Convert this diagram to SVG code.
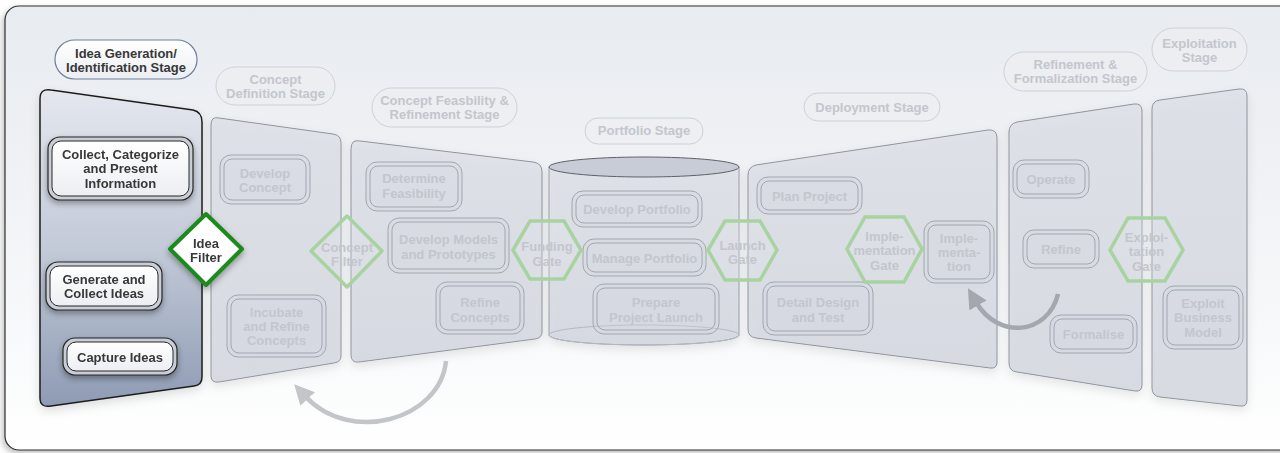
<svg xmlns="http://www.w3.org/2000/svg" width="1280" height="453" viewBox="0 0 1280 453">
<defs>
  <linearGradient id="bg" x1="0" y1="0" x2="0" y2="1">
    <stop offset="0" stop-color="#e8ebf0"/>
    <stop offset="0.6" stop-color="#f4f6f8"/>
    <stop offset="1" stop-color="#ffffff"/>
  </linearGradient>
  <linearGradient id="leftPanel" x1="0" y1="0" x2="0" y2="1">
    <stop offset="0" stop-color="#e4e7ee"/>
    <stop offset="0.5" stop-color="#c3cad8"/>
    <stop offset="1" stop-color="#8e9bb4"/>
  </linearGradient>
  <linearGradient id="fpanel" x1="0" y1="0" x2="0" y2="1">
    <stop offset="0" stop-color="#dcdfe6"/>
    <stop offset="1" stop-color="#cfd3dc"/>
  </linearGradient>
  <linearGradient id="white" x1="0" y1="0" x2="0" y2="1">
    <stop offset="0" stop-color="#ffffff"/>
    <stop offset="1" stop-color="#eceef2"/>
  </linearGradient>
  <filter id="sh" x="-20%" y="-20%" width="140%" height="150%">
    <feDropShadow dx="0" dy="3" stdDeviation="3" flood-color="#000" flood-opacity="0.35"/>
  </filter>
  <filter id="shsoft" x="-20%" y="-20%" width="140%" height="150%">
    <feDropShadow dx="0" dy="4" stdDeviation="5" flood-color="#000" flood-opacity="0.12"/>
  </filter>
  <filter id="frameSh" x="-5%" y="-5%" width="110%" height="115%">
    <feDropShadow dx="-2" dy="3" stdDeviation="3" flood-color="#000" flood-opacity="0.25"/>
  </filter>
  <marker id="ahL" viewBox="0 0 10 10" refX="2" refY="5" markerWidth="20" markerHeight="20" markerUnits="userSpaceOnUse" orient="auto">
    <path d="M0,0 L10,5 L0,10 z" fill="#c4c5c8"/>
  </marker>
  <marker id="ahR" viewBox="0 0 10 10" refX="2" refY="5" markerWidth="20" markerHeight="20" markerUnits="userSpaceOnUse" orient="auto">
    <path d="M0,0 L10,5 L0,10 z" fill="#a3a7ae"/>
  </marker>
  <style>
    .t { font-family: "Liberation Sans", Arial, Helvetica, sans-serif; font-weight: bold; font-size: 13px; text-anchor: middle; }
    .at { fill: #383838; }
    .ft { fill: #c3c6cd; }
    .fpan { fill: url(#fpanel); fill-opacity: 0.75; stroke: #8f949d; stroke-width: 1; }
    .fbo { fill: #d5d8df; fill-opacity: 0.35; stroke: #a2a6ae; stroke-width: 1; }
    .fbi { fill: none; stroke: #a2a6ae; stroke-width: 1; }
    .abo { fill: #c9cdd6; stroke: #262626; stroke-width: 1.2; }
    .abi { fill: url(#white); stroke: #262626; stroke-width: 1; }
    .fgate { fill: #e3e6ea; fill-opacity: 0.25; stroke: #a8d3a0; stroke-width: 3.5; stroke-linejoin: miter; }
    .apill { fill: url(#white); stroke: #6f7f99; stroke-width: 1.2; }
    .fpill { fill: #eceef2; fill-opacity: 0.6; stroke: #cdd0d8; stroke-width: 1; }
  </style>
</defs>

<rect x="0" y="0" width="1280" height="453" fill="#ffffff"/>
<rect id="frame" x="5" y="6" width="1300" height="444" rx="14" fill="url(#bg)" stroke="#2e2e2e" stroke-width="1.2" filter="url(#frameSh)"/>

<!-- Stage panels -->
<g id="panel-idea-generation">
  <path d="M 40 99 Q 40 88 51 90 L 193 110 Q 202 112 202 122 L 202 377 Q 202 385 194 386 L 51 406 Q 40 408 40 398 Z" fill="url(#leftPanel)" stroke="#1e1e1e" stroke-width="1.5" filter="url(#shsoft)"/>
</g>
<g id="panel-concept-definition">
  <path class="fpan" d="M 211 125 Q 211 116 219 118 L 333 134 Q 341 135 341 143 L 341 356 Q 341 362 334 363 L 219 382 Q 211 383 211 376 Z" filter="url(#shsoft)"/>
</g>
<g id="panel-concept-feasibility">
  <path class="fpan" d="M 351 149 Q 351 139 360 141 L 533 162 Q 542 163 542 172 L 542 332 Q 542 338 535 339 L 359 362 Q 351 363 351 355 Z" filter="url(#shsoft)"/>
</g>
<g id="panel-portfolio">
  <path d="M 549 167 L 549 335 A 95 10 0 0 0 739 335 L 739 167 Z" fill="url(#fpanel)" fill-opacity="0.75" stroke="#9a9ea7" stroke-width="1" filter="url(#shsoft)"/>
  <ellipse cx="644" cy="335" rx="95" ry="10" fill="none" stroke="#b4b8c0" stroke-width="1"/>
  <ellipse cx="644" cy="167" rx="95" ry="10" fill="#c8ccd7" stroke="#5e6168" stroke-width="1"/>
</g>
<g id="panel-deployment">
  <path class="fpan" d="M 748 175 Q 748 167 756 165 L 988 130 Q 997 129 997 138 L 997 362 Q 997 369 990 368 L 756 338 Q 748 337 748 329 Z" filter="url(#shsoft)"/>
</g>
<g id="panel-refinement">
  <path class="fpan" d="M 1009 132 Q 1009 124 1017 122 L 1134 104 Q 1142 103 1142 111 L 1142 385 Q 1142 392 1135 391 L 1017 372 Q 1009 371 1009 363 Z" filter="url(#shsoft)"/>
</g>
<g id="panel-exploitation">
  <path class="fpan" d="M 1152 109 Q 1152 101 1160 100 L 1239 89 Q 1247 88 1247 96 L 1247 400 Q 1247 407 1240 406 L 1160 397 Q 1152 396 1152 388 Z" filter="url(#shsoft)"/>
</g>

<!-- Stage labels -->
<g id="label-idea-generation">
  <rect class="apill" x="55" y="40" width="142" height="39" rx="19.5"/>
  <text class="t at" x="126" y="57.5">Idea Generation/</text>
  <text class="t at" x="126" y="71.5">Identification Stage</text>
</g>
<g id="label-concept-definition">
  <rect class="fpill" x="216" y="67" width="119" height="38" rx="19"/>
  <text class="t ft" x="275.5" y="83.5">Concept</text>
  <text class="t ft" x="275.5" y="97.5">Definition Stage</text>
</g>
<g id="label-concept-feasibility">
  <rect class="fpill" x="372" y="88" width="145" height="39" rx="19.5"/>
  <text class="t ft" x="444.5" y="105">Concept Feasbility &amp;</text>
  <text class="t ft" x="444.5" y="119">Refinement Stage</text>
</g>
<g id="label-portfolio">
  <rect class="fpill" x="585" y="118" width="118" height="26" rx="13"/>
  <text class="t ft" x="644" y="134.5">Portfolio Stage</text>
</g>
<g id="label-deployment">
  <rect class="fpill" x="804" y="93" width="136" height="28" rx="14"/>
  <text class="t ft" x="872" y="112">Deployment Stage</text>
</g>
<g id="label-refinement">
  <rect class="fpill" x="1004" y="52" width="143" height="39" rx="19.5"/>
  <text class="t ft" x="1075.5" y="68.5">Refinement &amp;</text>
  <text class="t ft" x="1075.5" y="83">Formalization Stage</text>
</g>
<g id="label-exploitation">
  <rect class="fpill" x="1152" y="28" width="95" height="43" rx="21.5"/>
  <text class="t ft" x="1199.5" y="47.5">Exploitation</text>
  <text class="t ft" x="1199.5" y="61.5">Stage</text>
</g>

<!-- Active activity nodes -->
<g id="node-collect" filter="url(#sh)">
  <rect class="abo" x="48" y="137" width="145" height="63" rx="12"/>
  <rect class="abi" x="52" y="141" width="137" height="55" rx="9"/>
  <text class="t at" x="120.5" y="159">Collect, Categorize</text>
  <text class="t at" x="120.5" y="173">and Present</text>
  <text class="t at" x="120.5" y="188">Information</text>
</g>
<g id="node-generate" filter="url(#sh)">
  <rect class="abo" x="46" y="262" width="116" height="48" rx="12"/>
  <rect class="abi" x="50" y="266" width="108" height="40" rx="9"/>
  <text class="t at" x="104" y="284">Generate and</text>
  <text class="t at" x="104" y="298">Collect Ideas</text>
</g>
<g id="node-capture" filter="url(#sh)">
  <rect class="abo" x="63" y="338" width="114" height="37" rx="12"/>
  <rect class="abi" x="67" y="342" width="106" height="29" rx="9"/>
  <text class="t at" x="120" y="362">Capture Ideas</text>
</g>

<!-- Faded activity nodes -->
<g id="node-develop-concept">
  <rect class="fbo" x="220" y="155" width="90" height="49" rx="11"/>
  <rect class="fbi" x="224" y="159" width="82" height="41" rx="8"/>
  <text class="t ft" x="265" y="177.5">Develop</text>
  <text class="t ft" x="265" y="191.5">Concept</text>
</g>
<g id="node-incubate">
  <rect class="fbo" x="227" y="295" width="99" height="62" rx="11"/>
  <rect class="fbi" x="231" y="299" width="91" height="54" rx="8"/>
  <text class="t ft" x="276.5" y="316.5">Incubate</text>
  <text class="t ft" x="276.5" y="330.5">and Refine</text>
  <text class="t ft" x="276.5" y="345">Concepts</text>
</g>
<g id="node-determine">
  <rect class="fbo" x="366" y="162" width="96" height="49" rx="11"/>
  <rect class="fbi" x="370" y="166" width="88" height="41" rx="8"/>
  <text class="t ft" x="414" y="182.5">Determine</text>
  <text class="t ft" x="414" y="197.5">Feasibility</text>
</g>
<g id="node-develop-models">
  <rect class="fbo" x="388" y="218" width="121" height="55" rx="11"/>
  <rect class="fbi" x="392" y="222" width="113" height="47" rx="8"/>
  <text class="t ft" x="448.5" y="243.5">Develop Models</text>
  <text class="t ft" x="448.5" y="258.5">and Prototypes</text>
</g>
<g id="node-refine-concepts">
  <rect class="fbo" x="436" y="282" width="88" height="52" rx="11"/>
  <rect class="fbi" x="440" y="286" width="80" height="44" rx="8"/>
  <text class="t ft" x="480" y="306.5">Refine</text>
  <text class="t ft" x="480" y="321.5">Concepts</text>
</g>
<g id="node-develop-portfolio">
  <rect class="fbo" x="572" y="191" width="130" height="36" rx="11"/>
  <rect class="fbi" x="576" y="195" width="122" height="28" rx="8"/>
  <text class="t ft" x="637" y="213.5">Develop Portfolio</text>
</g>
<g id="node-manage-portfolio">
  <rect class="fbo" x="583" y="239" width="123" height="37" rx="11"/>
  <rect class="fbi" x="587" y="243" width="115" height="29" rx="8"/>
  <text class="t ft" x="644.5" y="262.5">Manage Portfolio</text>
</g>
<g id="node-prepare-launch">
  <rect class="fbo" x="593" y="284" width="126" height="50" rx="11"/>
  <rect class="fbi" x="597" y="288" width="118" height="42" rx="8"/>
  <text class="t ft" x="656" y="306.5">Prepare</text>
  <text class="t ft" x="656" y="321.5">Project Launch</text>
</g>
<g id="node-plan-project">
  <rect class="fbo" x="757" y="177" width="105" height="37" rx="11"/>
  <rect class="fbi" x="761" y="181" width="97" height="29" rx="8"/>
  <text class="t ft" x="809.5" y="200.5">Plan Project</text>
</g>
<g id="node-implementation">
  <rect class="fbo" x="924" y="221" width="70" height="62" rx="11"/>
  <rect class="fbi" x="928" y="225" width="62" height="54" rx="8"/>
  <text class="t ft" x="959" y="242.5">Imple-</text>
  <text class="t ft" x="959" y="256.5">menta-</text>
  <text class="t ft" x="959" y="271">tion</text>
</g>
<g id="node-detail-design">
  <rect class="fbo" x="763" y="282" width="110" height="53" rx="11"/>
  <rect class="fbi" x="767" y="286" width="102" height="45" rx="8"/>
  <text class="t ft" x="818" y="306.5">Detail Design</text>
  <text class="t ft" x="818" y="321.5">and Test</text>
</g>
<g id="node-operate">
  <rect class="fbo" x="1013" y="160" width="76" height="38" rx="11"/>
  <rect class="fbi" x="1017" y="164" width="68" height="30" rx="8"/>
  <text class="t ft" x="1051" y="183.5">Operate</text>
</g>
<g id="node-refine">
  <rect class="fbo" x="1023" y="230" width="76" height="38" rx="11"/>
  <rect class="fbi" x="1027" y="234" width="68" height="30" rx="8"/>
  <text class="t ft" x="1061" y="254">Refine</text>
</g>
<g id="node-formalise">
  <rect class="fbo" x="1050" y="315" width="87" height="38" rx="11"/>
  <rect class="fbi" x="1054" y="319" width="79" height="30" rx="8"/>
  <text class="t ft" x="1093.5" y="339">Formalise</text>
</g>
<g id="node-exploit">
  <rect class="fbo" x="1163" y="286" width="80" height="63" rx="11"/>
  <rect class="fbi" x="1167" y="290" width="72" height="55" rx="8"/>
  <text class="t ft" x="1203" y="307.5">Exploit</text>
  <text class="t ft" x="1203" y="322">Business</text>
  <text class="t ft" x="1203" y="336.5">Model</text>
</g>

<!-- Gates -->
<g id="gate-idea-filter" filter="url(#sh)">
  <path d="M 206 214 L 242 249 L 206 285 L 170 249 Z" fill="#ffffff" stroke="#1a8a1a" stroke-width="4" stroke-linejoin="round"/>
  <text class="t at" x="206" y="247.5">Idea</text>
  <text class="t at" x="206" y="261.5">Filter</text>
</g>
<g id="gate-concept-filter">
  <path d="M 347 216 L 382 251 L 347 287 L 311 251 Z" fill="#e3e6ea" fill-opacity="0.25" stroke="#a8d3a0" stroke-width="3.5" stroke-linejoin="round"/>
  <text class="t ft" x="347" y="251.5">Concept</text>
  <text class="t ft" x="347" y="265.5">Filter</text>
</g>
<g id="gate-funding">
  <polygon class="fgate" points="513,250 530,221 564,221 581,250 564,279 530,279"/>
  <text class="t ft" x="547" y="250.5">Funding</text>
  <text class="t ft" x="547" y="265.5">Gate</text>
</g>
<g id="gate-launch">
  <polygon class="fgate" points="708,250 725,221 760,221 777,250 760,280 725,280"/>
  <text class="t ft" x="742.5" y="249.5">Launch</text>
  <text class="t ft" x="742.5" y="264">Gate</text>
</g>
<g id="gate-implementation">
  <polygon class="fgate" points="847,249 865,217 904,217 922,249 904,282 865,282"/>
  <text class="t ft" x="884.5" y="241">Imple-</text>
  <text class="t ft" x="884.5" y="255">mentation</text>
  <text class="t ft" x="884.5" y="269.5">Gate</text>
</g>
<g id="gate-exploitation">
  <polygon class="fgate" points="1110,250 1128,218 1165,218 1183,250 1165,281 1128,281"/>
  <text class="t ft" x="1146.5" y="241.5">Exploi-</text>
  <text class="t ft" x="1146.5" y="255.5">tation</text>
  <text class="t ft" x="1146.5" y="270.5">Gate</text>
</g>

<!-- Connectors -->
<g id="connectors" fill="none" stroke-width="4.5">
  <path d="M 446 361 C 440 420, 350 445, 305 396" stroke="#c4c5c8" marker-end="url(#ahL)"/>
  <path d="M 1058 294 C 1048 335, 998 340, 976 302" stroke="#a3a7ae" marker-end="url(#ahR)"/>
</g>
</svg>
